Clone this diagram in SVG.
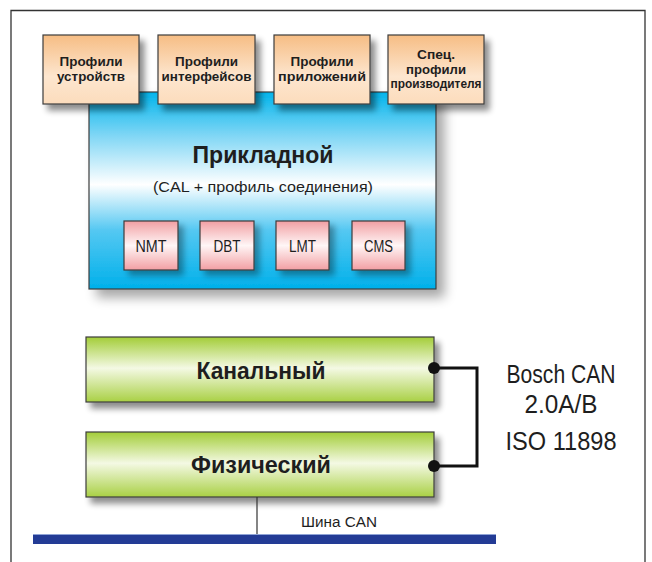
<svg xmlns="http://www.w3.org/2000/svg" width="652" height="562" viewBox="0 0 652 562">
  <defs>
    <linearGradient id="gProfile" x1="0" y1="0" x2="0" y2="1">
      <stop offset="0" stop-color="#f6bd84"/>
      <stop offset="0.6" stop-color="#fde6cf"/>
      <stop offset="1" stop-color="#fcdcbc"/>
    </linearGradient>
    <linearGradient id="gApp" x1="0" y1="0" x2="0" y2="1">
      <stop offset="0" stop-color="#00b4ec"/>
      <stop offset="0.22" stop-color="#7fd6f5"/>
      <stop offset="0.47" stop-color="#ffffff"/>
      <stop offset="0.7" stop-color="#55c8f2"/>
      <stop offset="1" stop-color="#00b0ea"/>
    </linearGradient>
    <linearGradient id="gService" x1="0" y1="0" x2="0" y2="1">
      <stop offset="0" stop-color="#f29fa3"/>
      <stop offset="0.5" stop-color="#fff6f6"/>
      <stop offset="1" stop-color="#f29fa3"/>
    </linearGradient>
    <linearGradient id="gLayer" x1="0" y1="0" x2="0" y2="1">
      <stop offset="0" stop-color="#a3cd38"/>
      <stop offset="0.48" stop-color="#f4f9e4"/>
      <stop offset="1" stop-color="#a9d044"/>
    </linearGradient>
    <filter id="shadow" x="-20%" y="-20%" width="150%" height="160%">
      <feGaussianBlur in="SourceAlpha" stdDeviation="3"/>
      <feOffset dx="5" dy="6" result="b"/>
      <feComponentTransfer><feFuncA type="linear" slope="0.45"/></feComponentTransfer>
      <feMerge><feMergeNode/><feMergeNode in="SourceGraphic"/></feMerge>
    </filter>
    <filter id="shadowBig" x="-10%" y="-10%" width="130%" height="140%">
      <feGaussianBlur in="SourceAlpha" stdDeviation="6"/>
      <feOffset dx="8" dy="8" result="b"/>
      <feComponentTransfer><feFuncA type="linear" slope="0.35"/></feComponentTransfer>
      <feMerge><feMergeNode/><feMergeNode in="SourceGraphic"/></feMerge>
    </filter>
    <filter id="shadowSmall" x="-20%" y="-20%" width="160%" height="160%">
      <feGaussianBlur in="SourceAlpha" stdDeviation="3"/>
      <feOffset dx="5" dy="5" result="b"/>
      <feComponentTransfer><feFuncA type="linear" slope="0.35"/></feComponentTransfer>
      <feMerge><feMergeNode/><feMergeNode in="SourceGraphic"/></feMerge>
    </filter>
  </defs>
  <style>
    .box { stroke: #3c3c3c; stroke-width: 1.2; }
    text { font-family: "Liberation Sans", "DejaVu Sans", sans-serif; fill: #1e1e1e; text-anchor: middle; }
    .prof { font-size: 13.5px; font-weight: bold; }
    .title { font-size: 24px; font-weight: bold; }
    .sub { font-size: 15px; }
    .svc { font-size: 16px; }
    .std { font-size: 25px; }
    .bus-label { font-size: 14px; }
    .wire { fill: none; stroke: #111; stroke-width: 3; }
  </style>

  <rect width="652" height="562" fill="#ffffff"/>
  <!-- outer frame, open at the bottom -->
  <path d="M11 570 V10.5 H645 V570" fill="none" stroke="#333" stroke-width="1.3"/>

  <!-- application layer -->
  <g id="application">
    <rect class="box" x="89" y="92" width="347" height="197" fill="url(#gApp)" filter="url(#shadowBig)"/>
    <text class="title" x="263" y="163" textLength="141" lengthAdjust="spacingAndGlyphs">Прикладной</text>
    <text class="sub" x="263" y="192" textLength="220" lengthAdjust="spacingAndGlyphs">(CAL + профиль соединения)</text>
  </g>

  <!-- profile boxes -->
  <g id="profile-devices">
    <rect class="box" x="43" y="35" width="96" height="69" fill="url(#gProfile)" filter="url(#shadow)"/>
    <text class="prof" x="91" y="66" textLength="63" lengthAdjust="spacingAndGlyphs">Профили</text>
    <text class="prof" x="91" y="81" textLength="68" lengthAdjust="spacingAndGlyphs">устройств</text>
  </g>
  <g id="profile-interfaces">
    <rect class="box" x="158" y="35" width="97" height="69" fill="url(#gProfile)" filter="url(#shadow)"/>
    <text class="prof" x="206.5" y="66" textLength="63" lengthAdjust="spacingAndGlyphs">Профили</text>
    <text class="prof" x="206.5" y="81" textLength="90" lengthAdjust="spacingAndGlyphs">интерфейсов</text>
  </g>
  <g id="profile-applications">
    <rect class="box" x="274" y="35" width="96" height="69" fill="url(#gProfile)" filter="url(#shadow)"/>
    <text class="prof" x="322" y="66" textLength="63" lengthAdjust="spacingAndGlyphs">Профили</text>
    <text class="prof" x="322" y="81" textLength="88" lengthAdjust="spacingAndGlyphs">приложений</text>
  </g>
  <g id="profile-vendor">
    <rect class="box" x="388" y="35" width="96" height="69" fill="url(#gProfile)" filter="url(#shadow)"/>
    <text class="prof" x="436" y="59" textLength="38" lengthAdjust="spacingAndGlyphs">Спец.</text>
    <text class="prof" x="436" y="74" textLength="60" lengthAdjust="spacingAndGlyphs">профили</text>
    <text class="prof" x="436" y="88" textLength="91" lengthAdjust="spacingAndGlyphs">производителя</text>
  </g>

  <!-- service elements -->
  <g id="nmt">
    <rect class="box" x="124" y="221" width="54" height="49" fill="url(#gService)" filter="url(#shadowSmall)"/>
    <text class="svc" x="151" y="252" textLength="31" lengthAdjust="spacingAndGlyphs">NMT</text>
  </g>
  <g id="dbt">
    <rect class="box" x="200" y="221" width="54" height="49" fill="url(#gService)" filter="url(#shadowSmall)"/>
    <text class="svc" x="227" y="252" textLength="27" lengthAdjust="spacingAndGlyphs">DBT</text>
  </g>
  <g id="lmt">
    <rect class="box" x="276" y="221" width="53" height="49" fill="url(#gService)" filter="url(#shadowSmall)"/>
    <text class="svc" x="302.5" y="252" textLength="27" lengthAdjust="spacingAndGlyphs">LMT</text>
  </g>
  <g id="cms">
    <rect class="box" x="352" y="221" width="53" height="49" fill="url(#gService)" filter="url(#shadowSmall)"/>
    <text class="svc" x="378.5" y="252" textLength="29" lengthAdjust="spacingAndGlyphs">CMS</text>
  </g>

  <!-- data link and physical layers -->
  <g id="data-link">
    <rect class="box" x="86" y="337" width="348" height="65" fill="url(#gLayer)" filter="url(#shadow)"/>
    <text class="title" x="261" y="379" textLength="129" lengthAdjust="spacingAndGlyphs">Канальный</text>
  </g>
  <g id="physical">
    <rect class="box" x="86" y="432" width="348" height="65" fill="url(#gLayer)" filter="url(#shadow)"/>
    <text class="title" x="261" y="473" textLength="140" lengthAdjust="spacingAndGlyphs">Физический</text>
  </g>

  <!-- bus -->
  <g id="can-bus">
    <rect x="33" y="534" width="463" height="10" fill="#233b95"/>
    <line x1="33" y1="534.5" x2="496" y2="534.5" stroke="#8fa3d6" stroke-width="1"/>
    <text class="bus-label" x="339" y="527" textLength="76" lengthAdjust="spacingAndGlyphs">Шина CAN</text>
  </g>

  <!-- standard labels -->
  <g id="standard">
    <text class="std" x="561" y="383" textLength="109" lengthAdjust="spacingAndGlyphs">Bosch CAN</text>
    <text class="std" x="561" y="413" textLength="73" lengthAdjust="spacingAndGlyphs">2.0A/B</text>
    <text class="std" x="561" y="450" textLength="111" lengthAdjust="spacingAndGlyphs">ISO 11898</text>
  </g>

  <!-- connectors -->
  <g id="connectors">
    <path class="wire" d="M434 368 H477 V466 H434"/>
    <circle cx="434" cy="368" r="6" fill="#111"/>
    <circle cx="434" cy="466" r="6" fill="#111"/>
    <line x1="257" y1="497" x2="257" y2="534" stroke="#333" stroke-width="1.2"/>
  </g>
</svg>
